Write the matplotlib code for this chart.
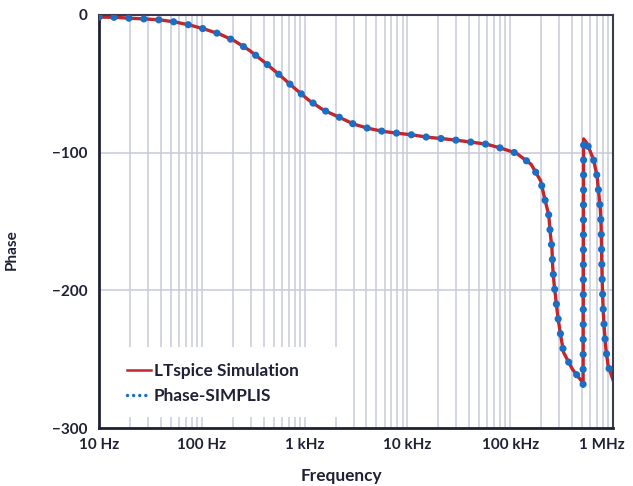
import numpy as np
import matplotlib.pyplot as plt
import matplotlib.transforms as mtransforms
from matplotlib.lines import Line2D
from matplotlib.patches import Rectangle
from matplotlib.ticker import FixedLocator, LogLocator, NullFormatter

plt.rcParams['font.family'] = ['Lato', 'DejaVu Sans']
plt.rcParams['font.weight'] = 'bold'
plt.rcParams['axes.labelweight'] = 'bold'

# frequency (Hz) and phase (deg)
freq_hz = [10, 14.6, 20.5, 28.6, 39.6, 55.1, 76.7, 106, 149, 209, 291, 407, 566, 780,
           1090, 1520, 2150, 2990, 4150, 5770, 8020, 11250, 15700, 21800, 30400, 42300,
           59300, 82200, 115000, 160000, 198000, 216000, 237000, 245000, 255000, 259000,
           267000, 279000, 292000, 310000, 331000, 403000, 493000, 512000, 518000,
           556000, 646000, 701000, 728000, 755000, 767000, 773000, 778000, 785000,
           794000, 807000, 826000, 851000, 897000, 1000000]
phase_deg = [-1.5, -1.7, -2.4, -2.9, -3.6, -5.1, -7.3, -10.2, -13.8, -18.9, -25.7, -34.3,
             -43.3, -52.5, -61.7, -69.0, -74.1, -79.2, -82.3, -84.5, -85.9, -87.1, -88.8,
             -89.8, -91.0, -92.4, -93.9, -96.8, -100.4, -108.5, -120.5, -133.1, -145.2,
             -157.8, -170.2, -182.8, -194.9, -207.7, -220.3, -232.9, -245.2, -257.3,
             -265.8, -269.5, -90.0, -93.0, -104.8, -117.4, -130.0, -142.3, -154.9, -167.5,
             -180.3, -192.7, -205.0, -217.7, -230.0, -242.0, -254.9, -265.0]

xticks = [10, 100, 1e3, 1e4, 1e5, 1e6]
xtick_labels = ['10 Hz', '100 Hz', '1 kHz', '10 kHz', '100 kHz', '1 MHz']
yticks = [0, -100, -200, -300]

ink = '#1f2135'
grid_col = '#c8ccd8'
red = '#c1272d'
blue = '#1a6fc4'

fig = plt.figure(figsize=(6.33, 4.86), dpi=100)
ax = fig.add_axes([99 / 633, 1 - 428 / 486, 514 / 633, 413 / 486])

ax.set_xscale('log')
ax.set_xlim(10, 1e6)
ax.set_ylim(-300, 0)

# grid: every 1..9 per decade, plus -100 / -200
ax.xaxis.set_major_locator(FixedLocator(xticks))
ax.xaxis.set_minor_locator(LogLocator(base=10, subs=np.arange(2, 10)))
ax.xaxis.set_minor_formatter(NullFormatter())
ax.set_xticklabels(xtick_labels)
ax.set_yticks(yticks)
ax.set_axisbelow(True)
ax.grid(True, which='both', axis='x', color=grid_col, lw=1.1)
ax.grid(True, which='major', axis='y', color=grid_col, lw=1.1)
ax.tick_params(which='both', length=0, labelsize=11, labelcolor=ink)
ax.tick_params(axis='x', pad=7)
ax.tick_params(axis='y', pad=8)
for lab in ax.get_xticklabels() + ax.get_yticklabels():
    lab.set_fontweight('bold')

# last label pulled inside the figure like the original
last = ax.get_xticklabels()[-1]
last.set_transform(last.get_transform() + mtransforms.ScaledTranslation(-11 / 100, 0, fig.dpi_scale_trans))

for side in ['left', 'bottom']:
    ax.spines[side].set_linewidth(2.0)
    ax.spines[side].set_color(ink)
for side in ['top', 'right']:
    ax.spines[side].set_linewidth(1.5)
    ax.spines[side].set_color('#3a3c4e')

# white block behind the legend hides the grid
ax.add_patch(Rectangle((0.002, 0.027), 0.478, 0.17, transform=ax.transAxes,
                       facecolor='white', edgecolor='none', zorder=1))

ax.plot(freq_hz, phase_deg, color=red, lw=2.4, zorder=2)
ax.plot(freq_hz, phase_deg, color=blue, lw=5.2, linestyle=(0, (0.01, 2.06)),
        dash_capstyle='round', zorder=3)

handles = [Line2D([], [], color=red, lw=1.8),
           Line2D([], [], color=blue, lw=2.5, linestyle=(0, (0.01, 1.75)), dash_capstyle='round')]
leg = ax.legend(handles, ['LTspice Simulation', 'Phase-SIMPLIS'], loc='lower left',
                bbox_to_anchor=(0.025, 0.02), frameon=False,
                prop={'size': 12.4, 'weight': 'bold'},
                handlelength=1.35, handletextpad=0.2, labelspacing=0.55)
for t in leg.get_texts():
    t.set_color(ink)

ax.set_xlabel('Frequency', fontsize=12.4, color=ink, fontweight='bold')
ax.set_ylabel('Phase', fontsize=11, color=ink, fontweight='bold')
ax.xaxis.set_label_coords(0.472, -0.097)
ax.yaxis.set_label_coords(-0.156, 0.433)

plt.savefig('out.png', dpi=100)
plt.close()
